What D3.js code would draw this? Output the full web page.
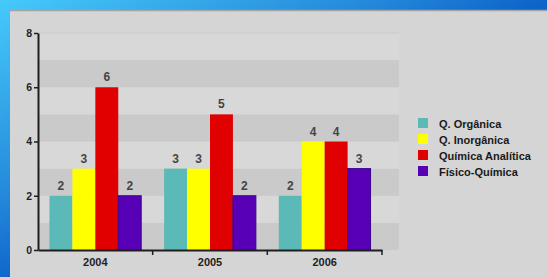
<!DOCTYPE html>
<html>
<head>
<meta charset="utf-8">
<script src="https://d3js.org/d3.v7.min.js"></script>
<style>
  body { margin: 0; padding: 0; overflow: hidden; }
  text { font-family: "Liberation Sans", Arial, sans-serif; font-weight: bold; }
</style>
</head>
<body>
<div id="chart-area"></div>
<script>
// data
var years = ["2004", "2005", "2006"]
var series = ["Q. Orgânica", "Q. Inorgânica", "Química Analítica", "Físico-Química"]
var organica = [2, 3, 2]
var inorganica = [3, 3, 4]
var analitica = [6, 5, 4]
var fisico = [2, 2, 3]
var yTicks = [0, 2, 4, 6, 8]

var colors = ["#5bb9b7", "#ffff00", "#e00000", "#5800b6"]
var allValues = [organica, inorganica, analitica, fisico]

var W = 547, H = 277

var svg = d3.select("#chart-area")
  .append("svg")
  .attr("width", W)
  .attr("height", H)

// blue background gradient
var grad = svg.append("defs").append("linearGradient")
  .attr("id", "bg")
  .attr("gradientUnits", "userSpaceOnUse")
  .attr("x1", 0).attr("y1", 0)
  .attr("x2", 140).attr("y2", 265)
grad.append("stop").attr("offset", 0).attr("stop-color", "#46cafa")
grad.append("stop").attr("offset", 0.59).attr("stop-color", "#2488da")
grad.append("stop").attr("offset", 0.85).attr("stop-color", "#0d64c9")
grad.append("stop").attr("offset", 1).attr("stop-color", "#0a5cc4")

svg.append("rect")
  .attr("width", W).attr("height", H)
  .attr("fill", "url(#bg)")

// gray panel
svg.append("rect")
  .attr("x", 10).attr("y", 10)
  .attr("width", W - 10).attr("height", H - 10)
  .attr("fill", "#d5d5d5")
svg.append("line")
  .attr("x1", 10).attr("x2", W)
  .attr("y1", 10.5).attr("y2", 10.5)
  .attr("stroke", "#a4a4a4").attr("stroke-width", 1.5)

var plotLeft = 38, plotRight = 382, plotBottom = 250, plotTop = 33

var x = d3.scaleBand()
  .domain(years)
  .range([plotLeft, plotRight])

var xs = d3.scaleBand()
  .domain(series)
  .range([0, x.bandwidth()])
  .paddingOuter(0.5)

var y = d3.scaleLinear()
  .domain([0, 8])
  .range([plotBottom, plotTop])

// alternating back-wall bands
var bands = d3.range(0, 8)
svg.append("g").selectAll("rect")
  .data(bands)
  .enter()
  .append("rect")
  .attr("x", plotLeft)
  .attr("width", 399 - plotLeft)
  .attr("y", d => y(d + 1))
  .attr("height", d => y(d) - y(d + 1))
  .attr("fill", d => d % 2 === 0 ? "#cacaca" : "#d8d8d8")

svg.append("line")
  .attr("x1", plotLeft).attr("x2", 399)
  .attr("y1", y(8)).attr("y2", y(8))
  .attr("stroke", "#cbcbcb")

// bars
var g = svg.append("g")
series.forEach(function(s, i) {
  var gs = g.append("g")
  gs.selectAll("rect")
    .data(allValues[i])
    .enter()
    .append("rect")
    .attr("x", (d, j) => x(years[j]) + xs(s))
    .attr("y", d => y(d))
    .attr("width", xs.bandwidth())
    .attr("height", d => plotBottom - y(d))
    .attr("fill", colors[i])
    .attr("stroke", i === 3 ? "#3a0090" : "none")
    .attr("stroke-width", 1)

  gs.selectAll("text")
    .data(allValues[i])
    .enter()
    .append("text")
    .text(d => d)
    .attr("x", (d, j) => x(years[j]) + xs(s) + xs.bandwidth() / 2)
    .attr("y", d => y(d) - 6)
    .attr("text-anchor", "middle")
    .attr("font-size", "12px")
    .attr("fill", "#454545")
})

// axes
var yAxisCall = d3.axisLeft(y)
  .tickValues(yTicks)
  .tickSize(4)
  .tickSizeOuter(0)
var yAx = svg.append("g")
  .attr("transform", "translate(" + plotLeft + ",0)")
  .call(yAxisCall)
yAx.select(".domain").attr("stroke", "#1e1e1e").attr("stroke-width", 2)
yAx.selectAll(".tick line").attr("stroke", "#1e1e1e").attr("stroke-width", 1.5)
yAx.selectAll(".tick text")
  .attr("font-size", "10.5px")
  .attr("font-family", "Liberation Sans, Arial, sans-serif")
  .attr("fill", "#1e1e1e")
  .attr("x", -6)

var xAxisCall = d3.axisBottom(x)
  .tickSize(0)
  .tickSizeOuter(0)
var xAx = svg.append("g")
  .attr("transform", "translate(0," + plotBottom + ")")
  .call(xAxisCall)
xAx.select(".domain").attr("stroke", "#1e1e1e").attr("stroke-width", 2)
xAx.selectAll(".tick text")
  .attr("font-size", "11px")
  .attr("font-family", "Liberation Sans, Arial, sans-serif")
  .attr("fill", "#222")
  .attr("dy", "1.15em")

// separators between year groups
xAx.selectAll(".sep")
  .data(years)
  .enter()
  .append("line")
  .attr("class", "sep")
  .attr("x1", d => x(d) + x.bandwidth())
  .attr("x2", d => x(d) + x.bandwidth())
  .attr("y1", 0)
  .attr("y2", 5)
  .attr("stroke", "#1e1e1e")
  .attr("stroke-width", 1.5)

// legend
var legend = svg.append("g")
  .attr("transform", "translate(418,118)")
var items = legend.selectAll("g")
  .data(series)
  .enter()
  .append("g")
  .attr("transform", (d, i) => "translate(0," + i * 16 + ")")
items.append("rect")
  .attr("width", 10).attr("height", 10)
  .attr("fill", (d, i) => colors[i])
items.append("text")
  .text(d => d)
  .attr("x", 21)
  .attr("y", 9.5)
  .attr("font-size", "11px")
  .attr("fill", "#1a1a1a")
</script>
</body>
</html>
